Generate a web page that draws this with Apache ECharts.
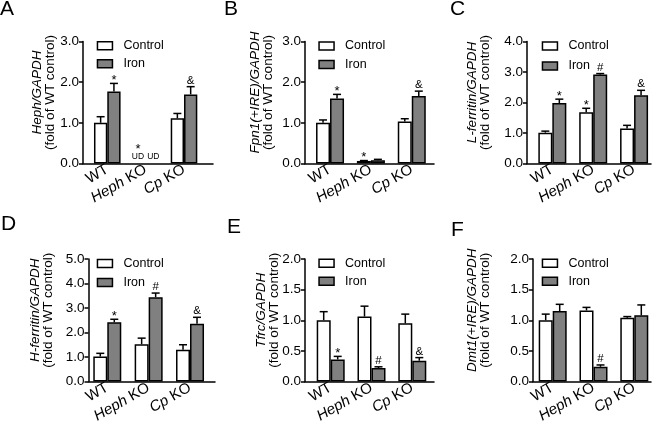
<!DOCTYPE html>
<html lang="en">
<head>
    <meta charset="utf-8">
    <style type="text/css">
    html, body {
        margin: 0;
        padding: 0;
        background-color: #fff;
    }

    #echarts {
        width: 656px;
        height: 427px;
    }
    </style>
</head>
<body>
    <div id="echarts"></div>
    <script type="text/javascript" src="https://cdn.jsdelivr.net/npm/echarts@6/dist/echarts.min.js"></script>
    <script type="text/javascript">
    // x categories (gene part of the label is italic)
    var categories = ['WT', 'Heph KO', 'Cp KO'];

    // A: Heph/GAPDH  (Heph KO undetectable)
    var hephCtrl = [1.00, null, 1.11];
    var hephCtrlErr = [0.15, null, 0.12];
    var hephIron = [1.77, null, 1.70];
    var hephIronErr = [0.20, null, 0.19];
    var hephCtrlMarks = ['', '*', ''];
    var hephIronMarks = ['*', '', '&'];
    var hephUD = ['', 'UD', ''];

    // B: Fpn1(+IRE)/GAPDH
    var fpnCtrl = [1.00, 0.06, 1.03];
    var fpnCtrlErr = [0.07, 0.01, 0.07];
    var fpnIron = [1.60, 0.08, 1.66];
    var fpnIronErr = [0.10, 0.02, 0.12];
    var fpnCtrlMarks = ['', '*', ''];
    var fpnIronMarks = ['*', '', '&'];

    // C: L-ferritin/GAPDH
    var lftCtrl = [1.01, 1.68, 1.15];
    var lftCtrlErr = [0.05, 0.13, 0.10];
    var lftIron = [1.98, 2.92, 2.24];
    var lftIronErr = [0.13, 0.03, 0.16];
    var lftCtrlMarks = ['', '*', ''];
    var lftIronMarks = ['*', '#', '&'];

    // D: H-ferritin/GAPDH
    var hftCtrl = [1.02, 1.52, 1.30];
    var hftCtrlErr = [0.13, 0.25, 0.20];
    var hftIron = [2.42, 3.44, 2.36];
    var hftIronErr = [0.12, 0.17, 0.26];
    var hftCtrlMarks = ['', '', ''];
    var hftIronMarks = ['*', '#', '&'];

    // E: Tfrc/GAPDH
    var tfrcCtrl = [1.00, 1.06, 0.95];
    var tfrcCtrlErr = [0.14, 0.17, 0.15];
    var tfrcIron = [0.36, 0.22, 0.34];
    var tfrcIronErr = [0.05, 0.02, 0.05];
    var tfrcCtrlMarks = ['', '', ''];
    var tfrcIronMarks = ['*', '#', '&'];

    // F: Dmt1(+IRE)/GAPDH
    var dmtCtrl = [1.00, 1.16, 1.04];
    var dmtCtrlErr = [0.10, 0.05, 0.02];
    var dmtIron = [1.15, 0.24, 1.08];
    var dmtIronErr = [0.11, 0.03, 0.17];
    var dmtCtrlMarks = ['', '', ''];
    var dmtIronMarks = ['', '#', ''];

    var FONT = 'Liberation Sans, Arial, Helvetica, sans-serif';
    var BLACK = '#000';

    /* layout of each panel (pixel positions only) */
    var panels = [
        { letter: 'A', name: 'Heph/GAPDH', max: 3, interval: 1,
          ctrl: hephCtrl, ctrlErr: hephCtrlErr, iron: hephIron, ironErr: hephIronErr,
          ctrlMarks: hephCtrlMarks, ironMarks: hephIronMarks, ud: hephUD,
          axisX: 83, axisEnd: 213, barLeft: 88.1, barRight: 203.2, top: 41.6, bottom: 163.4,
          bw: 13.3, nameGap: 26, lg: [96.7, 39.3, 5], tl: [0, -1] },
        { letter: 'B', name: 'Fpn1(+IRE)/GAPDH', max: 3, interval: 1,
          ctrl: fpnCtrl, ctrlErr: fpnCtrlErr, iron: fpnIron, ironErr: fpnIronErr,
          ctrlMarks: fpnCtrlMarks, ironMarks: fpnIronMarks,
          axisX: 305, axisEnd: 434, barLeft: 309.6, barRight: 432.2, top: 41.6, bottom: 163.4,
          bw: 14, nameGap: 30.5, lg: [318.3, 39.5, 5.5], tl: [224, -1] },
        { letter: 'C', name: 'L-ferritin/GAPDH', max: 4, interval: 1,
          ctrl: lftCtrl, ctrlErr: lftCtrlErr, iron: lftIron, ironErr: lftIronErr,
          ctrlMarks: lftCtrlMarks, ironMarks: lftIronMarks,
          axisX: 527, axisEnd: 651, barLeft: 531.9, barRight: 654.5, top: 41.6, bottom: 163.4,
          bw: 14, nameGap: 35.5, lg: [541.7, 39.5, 7], tl: [450, -1] },
        { letter: 'D', name: 'H-ferritin/GAPDH', max: 5, interval: 1,
          ctrl: hftCtrl, ctrlErr: hftCtrlErr, iron: hftIron, ironErr: hftIronErr,
          ctrlMarks: hftCtrlMarks, ironMarks: hftIronMarks,
          axisX: 88.5, axisEnd: 215, barLeft: 86.6, barRight: 210.7, top: 259, bottom: 381.5,
          bw: 14, nameGap: 33.5, lg: [96.7, 257, 6], tl: [1, 213.5] },
        { letter: 'E', name: 'Tfrc/GAPDH', max: 2, interval: 0.5,
          ctrl: tfrcCtrl, ctrlErr: tfrcCtrlErr, iron: tfrcIron, ironErr: tfrcIronErr,
          ctrlMarks: tfrcCtrlMarks, ironMarks: tfrcIronMarks,
          axisX: 305, axisEnd: 434, barLeft: 310.3, barRight: 432.7, top: 259, bottom: 381.5,
          bw: 14, nameGap: 24, lg: [318.3, 256.8, 5], tl: [227, 217] },
        { letter: 'F', name: 'Dmt1(+IRE)/GAPDH', max: 2, interval: 0.5,
          ctrl: dmtCtrl, ctrlErr: dmtCtrlErr, iron: dmtIron, ironErr: dmtIronErr,
          ctrlMarks: dmtCtrlMarks, ironMarks: dmtIronMarks,
          axisX: 533, axisEnd: 651, barLeft: 532.3, barRight: 654.7, top: 259, bottom: 381.5,
          bw: 14, nameGap: 41, lg: [541.7, 256.8, 5], tl: [451, 220] }
    ];

    function catLabel(v) {
        var parts = v.split(' ');
        if (parts.length > 1) return '{i|' + parts[0] + '} ' + parts[1];
        return v;
    }

    /* error whisker + significance mark, drawn above each bar */
    function makeErrRender(vals, errs, marks, ud, side, bw) {
        return function(params, api) {
            var k = params.dataIndex;
            var v = vals[k], e = errs[k] || 0, mk = marks[k], u = ud ? ud[k] : '';
            var base = api.coord([k, 0]);
            var cx = base[0] + side * bw / 2;
            var children = [];
            var topY = base[1];
            if (v != null) {
                var y0 = api.coord([k, v])[1];
                var y1 = api.coord([k, v + e])[1];
                children.push({ type: 'line', shape: { x1: cx, y1: y0, x2: cx, y2: y1 },
                    style: { stroke: BLACK, lineWidth: 1.5 } });
                children.push({ type: 'line', shape: { x1: cx - 4, y1: y1, x2: cx + 4, y2: y1 },
                    style: { stroke: BLACK, lineWidth: 1.5 } });
                topY = y1;
            }
            if (u) {
                children.push({ type: 'text', style: { text: u, x: cx + side, y: base[1] - 2,
                    align: 'center', verticalAlign: 'bottom', fontSize: 8.5, fontFamily: FONT, fill: BLACK } });
                topY = base[1] - 11;
            }
            if (mk) {
                var star = mk === '*';
                children.push({ type: 'text', style: { text: mk, x: (u ? cx + side : cx),
                    y: topY - 6 + (star ? 3 : 0),
                    align: 'center', verticalAlign: 'middle', fontSize: star ? 13 : 11.5,
                    fontFamily: FONT, fill: BLACK } });
            }
            return { type: 'group', children: children };
        };
    }

    var grid = [], xAxis = [], yAxis = [], series = [], legend = [], title = [];

    panels.forEach(function(p, i) {
        var gf = i * 2, gb = i * 2 + 1;
        var h = p.bottom - p.top;
        grid.push({ left: p.axisX, top: p.top, width: p.axisEnd - p.axisX, height: h });
        grid.push({ left: p.barLeft, top: p.top, width: p.barRight - p.barLeft, height: h });

        xAxis.push({
            gridIndex: gf, type: 'value', min: 0, max: 1,
            axisLine: { show: true, lineStyle: { color: BLACK, width: 1.5 } },
            axisTick: { show: false }, axisLabel: { show: false }, splitLine: { show: false }
        });
        xAxis.push({
            gridIndex: gb, type: 'category', data: categories,
            axisLine: { show: false }, axisTick: { show: false }, splitLine: { show: false },
            axisLabel: {
                interval: 0, rotate: 30, margin: 5, fontSize: 15, color: BLACK, fontFamily: FONT,
                formatter: catLabel,
                rich: { i: { fontStyle: 'italic', fontSize: 15, color: BLACK, fontFamily: FONT } }
            }
        });

        yAxis.push({
            gridIndex: gf, type: 'value', min: 0, max: p.max, interval: p.interval,
            axisLine: { show: true, lineStyle: { color: BLACK, width: 1.5 } },
            axisTick: { show: true, length: 4, lineStyle: { color: BLACK, width: 1.5 } },
            axisLabel: { fontSize: 13.5, margin: 4, color: BLACK, fontFamily: FONT,
                formatter: function(v) { return v.toFixed(1); } },
            splitLine: { show: false },
            name: '{i|' + p.name + '}\n{n|(fold of WT control)}',
            nameLocation: 'middle', nameRotate: 90, nameGap: p.nameGap,
            nameMoveOverlap: false,
            nameTextStyle: {
                lineHeight: 13,
                padding: [0, 0, 0, 20],
                rich: {
                    i: { fontStyle: 'italic', fontSize: 13.5, lineHeight: 13, color: BLACK, fontFamily: FONT },
                    n: { fontSize: 13.5, lineHeight: 13, color: BLACK, fontFamily: FONT }
                }
            }
        });
        yAxis.push({ gridIndex: gb, type: 'value', min: 0, max: p.max, show: false });

        series.push({
            name: 'Control', type: 'bar', xAxisIndex: gb, yAxisIndex: gb,
            data: p.ctrl, barWidth: p.bw, barGap: '0%',
            itemStyle: { color: '#ffffff', borderColor: BLACK, borderWidth: 1.5 }
        });
        series.push({
            name: 'Iron', type: 'bar', xAxisIndex: gb, yAxisIndex: gb,
            data: p.iron, barWidth: p.bw, barGap: '0%',
            itemStyle: { color: '#808080', borderColor: BLACK, borderWidth: 1.5 }
        });
        [[p.ctrl, p.ctrlErr, p.ctrlMarks, -1], [p.iron, p.ironErr, p.ironMarks, 1]].forEach(function(s, j) {
            series.push({
                name: 'err' + i + '_' + j, type: 'custom', xAxisIndex: gb, yAxisIndex: gb,
                renderItem: makeErrRender(s[0], s[1], s[2], p.ud, s[3], p.bw),
                data: categories.map(function(c, k) {
                    return [k, s[0][k] == null ? 0 : s[0][k] + (s[1][k] || 0)];
                }),
                z: 5, silent: true
            });
        });

        legend.push({
            data: ['Control', 'Iron'], orient: 'vertical', left: p.lg[0], top: p.lg[1],
            padding: 0, itemGap: p.lg[2], itemWidth: 15, itemHeight: 8, icon: 'rect',
            selectedMode: false,
            itemStyle: { borderColor: BLACK, borderWidth: 1.5 },
            textStyle: { fontSize: 12.5, lineHeight: 12, color: BLACK, fontFamily: FONT, padding: [0, 0, 0, 6] }
        });

        title.push({
            text: p.letter, left: p.tl[0], top: p.tl[1], padding: 0,
            textStyle: { fontSize: 21, fontWeight: 'normal', color: BLACK, fontFamily: FONT, lineHeight: 21 }
        });
    });

    var myEcharts = echarts.init(document.getElementById('echarts'));
    var option = {
        animation: false,
        backgroundColor: '#fff',
        textStyle: { fontFamily: FONT },
        title: title,
        legend: legend,
        grid: grid,
        xAxis: xAxis,
        yAxis: yAxis,
        series: series
    };
    myEcharts.setOption(option);
    </script>
</body>
</html>
